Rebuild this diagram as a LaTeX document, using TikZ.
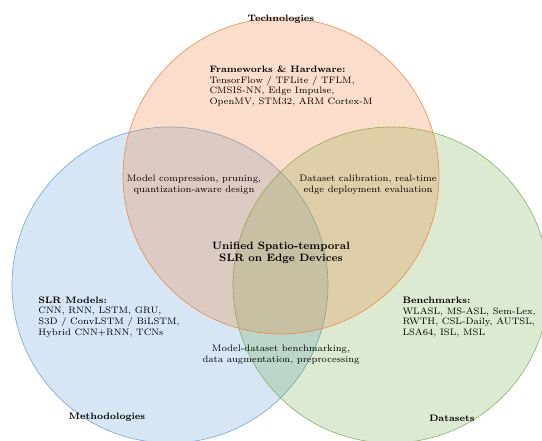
\documentclass[tikz,border=0pt]{standalone}
\usepackage{xcolor}
\definecolor{techorange}{RGB}{237,125,49}
\definecolor{methblue}{RGB}{91,155,213}
\definecolor{datagreen}{RGB}{112,173,71}

\tikzset{every picture/.style={line width=0.75pt}}
\tikzset{
  vennset/.style={fill opacity=0.25, draw opacity=0.8, line width=0.5pt},
  setlabel/.style={font=\scriptsize\bfseries, inner sep=0pt},
  itemblock/.style={font=\scriptsize, align=left, inner sep=0pt, anchor=west},
  overlaptext/.style={font=\scriptsize, align=center, inner sep=0pt},
}

\begin{document}
\begin{tikzpicture}[x=0.75pt,y=0.75pt,yscale=-1,xscale=1]
%set diagram left start at 0, and has height of 441
\useasboundingbox (0,0) rectangle (542,441);
\clip (0,0) rectangle (542,441);

%Shape: Circle [Methodologies]
\draw [vennset, draw=methblue, fill=methblue] (170,285) circle (158) ;
%Shape: Circle [Datasets]
\draw [vennset, draw=datagreen, fill=datagreen] (391,285) circle (158) ;
%Shape: Circle [Technologies]
\draw [vennset, draw=techorange, fill=techorange] (281,176) circle (158) ;

%Set labels
\node [setlabel] (techlabel) at (281,19) {Technologies};
\node [setlabel] (methlabel) at (107,417) {Methodologies};
\node [setlabel] (datalabel) at (452,418) {Datasets};

%Text Node
\node [itemblock] (techitems) at (209,86) {\textbf{Frameworks \& Hardware:}\\TensorFlow / TFLite / TFLM,\\CMSIS-NN, Edge Impulse,\\OpenMV, STM32, ARM Cortex-M};
%Text Node
\node [itemblock] (methitems) at (38,317) {\textbf{SLR Models:}\\CNN, RNN, LSTM, GRU,\\S3D / ConvLSTM / BiLSTM,\\Hybrid CNN+RNN, TCNs};
%Text Node
\node [itemblock] (dataitems) at (402,317) {\textbf{Benchmarks:}\\WLASL, MS-ASL, Sem-Lex,\\RWTH, CSL-Daily, AUTSL,\\LSA64, ISL, MSL};

%Overlaps
\node [overlaptext] (techmeth) at (194,185) {Model compression, pruning,\\quantization-aware design};
\node [overlaptext] (techdata) at (368,185) {Dataset calibration, real-time\\edge deployment evaluation};
\node [overlaptext] (methdata) at (281,355) {Model-dataset benchmarking,\\data augmentation, preprocessing};

%Centre
\node [font=\footnotesize\bfseries, align=center, inner sep=0pt] (core) at (281,253) {Unified Spatio-temporal\\SLR on Edge Devices};

\end{tikzpicture}
\end{document}
